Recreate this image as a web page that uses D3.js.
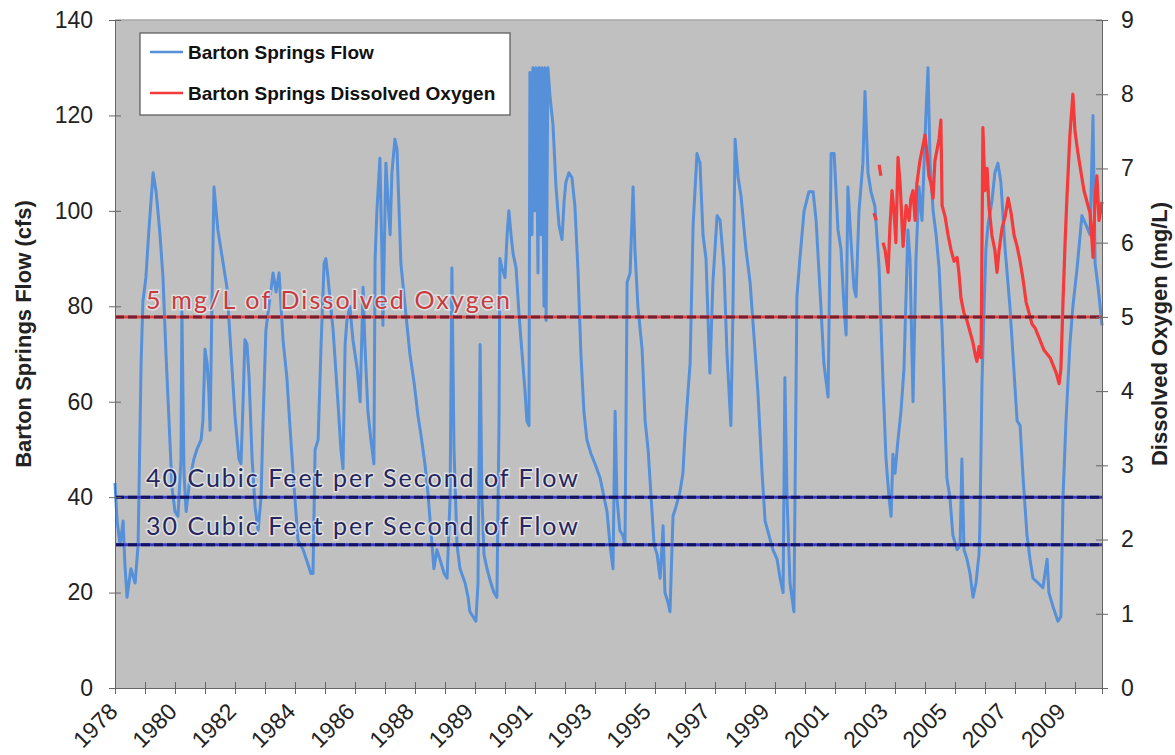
<!DOCTYPE html>
<html>
<head>
<meta charset="utf-8">
<script src="https://cdn.jsdelivr.net/npm/d3@7"></script>
<style>
  body { margin: 0; background: #fff; }
  svg { display: block; font-family: "Liberation Sans", Arial, sans-serif; }
</style>
</head>
<body>
<div id="chart"></div>
<script>
// axis labels (category axis, a label on every second tick)
const xLabels = ["1978", "1980", "1982", "1984", "1986", "1988", "1989", "1991",
  "1993", "1995", "1997", "1999", "2001", "2003", "2005", "2007", "2009"];
const flowTicks = [0, 20, 40, 60, 80, 100, 120, 140];
const doTicks = [0, 1, 2, 3, 4, 5, 6, 7, 8, 9];

// [axis position (tick units), flow cfs]
const flow = [
  [0,43],[0.07,35],[0.17,30],[0.27,35],[0.33,26],[0.4,19],[0.53,25],[0.67,22],[0.77,30],[0.87,68],
  [0.93,81],[1.03,86],[1.13,96],[1.27,108],[1.37,104],[1.43,100],[1.5,95],[1.6,86],[1.7,70],[1.8,56],
  [1.9,42],[2.0,37],[2.1,36],[2.2,48],[2.23,79],[2.3,45],[2.37,37],[2.5,44],[2.63,48],[2.73,50],
  [2.87,52],[2.93,56],[3.0,71],[3.07,68],[3.13,62],[3.17,54],[3.23,80],[3.3,105],[3.37,100],[3.43,96],
  [3.53,92],[3.63,88],[3.73,84],[3.87,70],[4.0,57],[4.13,48],[4.2,47],[4.27,60],[4.33,73],[4.4,72],
  [4.47,65],[4.57,48],[4.67,38],[4.77,33],[4.87,40],[4.93,55],[5.03,75],[5.17,82],[5.27,87],[5.37,83],
  [5.47,87],[5.6,73],[5.73,65],[5.83,55],[5.97,42],[6.1,31],[6.27,29],[6.43,26],[6.53,24],[6.6,24],
  [6.67,50],[6.77,52],[6.87,72],[6.97,89],[7.03,90],[7.1,86],[7.27,75],[7.43,60],[7.53,50],[7.6,46],
  [7.67,72],[7.73,77],[7.83,80],[7.93,73],[8.07,67],[8.17,60],[8.27,84],[8.33,72],[8.43,58],[8.53,52],
  [8.63,47],[8.67,90],[8.73,100],[8.83,111],[8.9,90],[8.93,76],[9.0,100],[9.03,110],[9.1,102],[9.17,95],
  [9.23,108],[9.33,115],[9.4,113],[9.47,100],[9.53,89],[9.67,80],[9.83,70],[9.97,64],[10.1,57],[10.2,53],
  [10.33,47],[10.43,41],[10.53,33],[10.63,25],[10.73,29],[10.83,27],[10.97,24],[11.07,23],[11.17,40],[11.23,88],
  [11.3,50],[11.4,30],[11.5,25],[11.67,22],[11.77,19],[11.83,16],[11.93,15],[12.03,14],[12.1,22],[12.17,72],
  [12.23,40],[12.3,28],[12.4,25],[12.53,22],[12.63,20],[12.73,19],[12.8,55],[12.83,90],[12.9,88],[13.0,86],
  [13.07,95],[13.13,100],[13.2,95],[13.27,91],[13.37,88],[13.47,78],[13.57,70],[13.67,62],[13.73,56],[13.8,55],
  [13.83,129],[13.9,95],[13.93,130],[14.0,100],[14.03,130],[14.1,87],[14.13,130],[14.2,95],[14.23,130],[14.3,80],
  [14.33,130],[14.37,77],[14.43,130],[14.5,124],[14.6,118],[14.7,105],[14.8,97],[14.9,94],[14.97,102],[15.03,106],
  [15.13,108],[15.23,107],[15.33,101],[15.43,88],[15.53,70],[15.63,58],[15.73,52],[15.87,49],[16.0,47],[16.17,44],
  [16.3,40],[16.4,37],[16.5,30],[16.6,25],[16.67,58],[16.73,40],[16.83,33],[16.93,32],[17.0,30],[17.07,85],
  [17.17,87],[17.27,105],[17.33,92],[17.43,80],[17.57,71],[17.67,56],[17.77,50],[17.87,40],[17.97,30],[18.07,28],
  [18.17,23],[18.27,34],[18.33,20],[18.43,18],[18.5,16],[18.6,36],[18.7,38],[18.83,41],[18.93,45],[19.0,53],
  [19.1,62],[19.17,68],[19.27,97],[19.4,112],[19.5,110],[19.6,95],[19.7,90],[19.83,66],[19.93,85],[20.07,99],
  [20.17,98],[20.3,88],[20.4,70],[20.53,55],[20.6,80],[20.67,115],[20.77,107],[20.87,103],[21.03,92],[21.17,85],
  [21.33,71],[21.43,62],[21.57,45],[21.67,35],[21.8,32],[21.93,29],[22.07,27],[22.17,23],[22.27,20],[22.33,65],
  [22.4,40],[22.5,22],[22.63,16],[22.73,82],[22.83,90],[22.97,100],[23.13,104],[23.27,104],[23.37,98],[23.53,80],
  [23.63,68],[23.77,61],[23.87,112],[23.97,112],[24.1,96],[24.2,92],[24.3,80],[24.37,74],[24.43,105],[24.53,94],
  [24.63,84],[24.7,82],[24.8,100],[24.93,110],[25.0,125],[25.1,108],[25.2,104],[25.33,101],[25.47,88],[25.6,64],
  [25.7,48],[25.8,40],[25.87,36],[25.93,49],[26.0,45],[26.1,52],[26.2,58],[26.3,67],[26.43,96],[26.5,90],
  [26.6,60],[26.7,90],[26.8,105],[26.9,98],[27.03,120],[27.1,130],[27.17,110],[27.27,100],[27.37,95],[27.47,88],
  [27.57,75],[27.63,64],[27.73,44],[27.83,40],[27.93,32],[28.07,29],[28.17,30],[28.23,48],[28.3,29],[28.4,27],
  [28.5,24],[28.6,19],[28.7,22],[28.8,28],[28.83,34],[28.9,64],[28.97,80],[29.03,92],[29.1,97],[29.23,102],
  [29.33,108],[29.43,110],[29.53,106],[29.67,92],[29.83,80],[29.93,70],[30.07,56],[30.17,55],[30.27,44],[30.4,32],
  [30.5,27],[30.6,23],[30.77,22],[30.93,21],[31.07,27],[31.13,20],[31.27,17],[31.43,14],[31.53,15],[31.6,40],
  [31.7,56],[31.83,72],[31.93,80],[32.07,88],[32.23,99],[32.37,97],[32.5,95],[32.6,120],[32.67,89],[32.77,84],
  [32.9,76]
];

// [axis position, dissolved oxygen mg/L]; null = no sample
const dissolvedOxygen = [
  [25.3,6.4],[25.37,6.3],[25.42,null],[25.47,7.05],[25.53,6.9],[25.56,null],
  [25.6,6.0],[25.67,5.9],[25.77,5.6],[25.83,6.2],[25.9,6.7],[25.97,6.4],[26.03,6.0],[26.1,7.15],
  [26.17,6.8],[26.27,5.95],[26.37,6.5],[26.47,6.3],[26.53,6.6],[26.6,6.7],[26.67,6.3],[26.73,6.8],
  [26.83,7.1],[26.93,7.3],[27.0,7.45],[27.07,7.2],[27.13,6.9],[27.2,6.8],[27.27,6.6],[27.33,7.1],
  [27.4,7.25],[27.47,7.4],[27.53,7.65],[27.57,6.5],[27.67,6.35],[27.77,6.1],[27.87,5.9],[27.97,5.75],
  [28.07,5.8],[28.13,5.6],[28.2,5.25],[28.3,5.05],[28.4,4.95],[28.5,4.8],[28.6,4.65],[28.67,4.5],
  [28.73,4.4],[28.8,4.6],[28.87,4.45],[28.93,7.55],[29.0,6.7],[29.07,7.0],[29.13,6.5],[29.23,6.1],
  [29.33,5.9],[29.4,5.6],[29.47,5.9],[29.57,6.2],[29.67,6.35],[29.77,6.6],[29.87,6.4],[29.97,6.1],
  [30.07,5.95],[30.17,5.75],[30.27,5.5],[30.37,5.2],[30.47,5.05],[30.57,4.9],[30.67,4.85],[30.77,4.75],
  [30.87,4.65],[30.97,4.55],[31.07,4.5],[31.17,4.45],[31.27,4.35],[31.37,4.25],[31.47,4.1],[31.53,4.3],
  [31.6,5.2],[31.67,6.0],[31.73,6.6],[31.83,7.45],[31.93,8.0],[32.0,7.5],[32.1,7.2],[32.2,6.95],
  [32.3,6.7],[32.4,6.55],[32.5,6.4],[32.57,6.0],[32.6,5.8],[32.67,6.6],[32.73,6.9],[32.8,6.3],[32.9,6.55]
];

const flowLimits = [40, 30];
const flowLimitLabels = ["40 Cubic Feet per Second of Flow", "30 Cubic Feet per Second of Flow"];
const doLimit = 5;
const doLimitLabel = "5 mg/L of Dissolved Oxygen";

var margin = { top: 20, right: 73, bottom: 67, left: 115 },
  width = 1175 - margin.left - margin.right,
  height = 755 - margin.top - margin.bottom;

var x = d3.scaleLinear().domain([0, 32.9]).range([0, width]);
var yFlow = d3.scaleLinear().domain([0, 140]).range([height, 0]);
var yDo = d3.scaleLinear().domain([0, 9]).range([height, 0]);

var svg = d3
  .select("#chart")
  .append("svg")
  .attr("width", 1175)
  .attr("height", 755)
  .append("g")
  .attr("transform", "translate(" + margin.left + "," + margin.top + ")");

// plot area
svg.append("rect")
  .attr("width", width)
  .attr("height", height)
  .attr("fill", "#c0c0c0");

svg.append("line")
  .attr("x1", 0).attr("x2", width).attr("y1", 0).attr("y2", 0)
  .attr("stroke", "#a8a8a8").attr("stroke-width", 1.5);

// flow line
var flowLine = d3.line()
  .x((d) => x(d[0]))
  .y((d) => yFlow(d[1]));

svg.append("path")
  .datum(flow)
  .attr("fill", "none")
  .attr("stroke", "#5590d8")
  .attr("stroke-width", 3)
  .attr("stroke-linejoin", "round")
  .attr("d", flowLine);

// dissolved oxygen line
var doLine = d3.line()
  .defined((d) => d[1] != null)
  .x((d) => x(d[0]))
  .y((d) => yDo(d[1]));

svg.append("path")
  .datum(dissolvedOxygen)
  .attr("fill", "none")
  .attr("stroke", "#f43a3a")
  .attr("stroke-width", 3.2)
  .attr("stroke-linejoin", "round")
  .attr("d", doLine);

// reference lines
function refLine(yPos, base, dash) {
  svg.append("line")
    .attr("x1", 0).attr("x2", width).attr("y1", yPos).attr("y2", yPos)
    .attr("stroke", base).attr("stroke-width", 3);
  svg.append("line")
    .attr("x1", 0).attr("x2", width).attr("y1", yPos).attr("y2", yPos)
    .attr("stroke", dash).attr("stroke-width", 3)
    .attr("stroke-dasharray", "9,4");
}

refLine(yDo(doLimit), "#e04848", "#7a1e2e");
flowLimits.forEach((v) => refLine(yFlow(v), "#3a3ac8", "#12125e"));

function refLabel(text, yPos, color, len) {
  svg.append("text")
    .attr("x", 31)
    .attr("y", yPos)
    .attr("fill", color)
    .attr("stroke", "rgba(255,255,255,0.55)")
    .attr("stroke-width", 3)
    .attr("paint-order", "stroke")
    .attr("textLength", len)
    .attr("lengthAdjust", "spacing")
    .style("font-family", "Lato, 'Open Sans', sans-serif")
    .style("font-size", "25px")
    .text(text);
}

refLabel(doLimitLabel, yDo(doLimit) - 8, "#c83a40", 364);
flowLimits.forEach((v, i) => refLabel(flowLimitLabels[i], yFlow(v) - 10, "#26265e", 432));

// left axis
var axL = svg.append("g")
  .call(d3.axisLeft(yFlow).tickValues(flowTicks).tickSize(6).tickPadding(16));
axL.selectAll(".tick line").attr("x1", 6);
axL.selectAll("text").style("font-size", "23px").attr("fill", "#222");
axL.select(".domain").attr("stroke", "#666");
axL.selectAll(".tick line").attr("stroke", "#666");

// right axis
var axR = svg.append("g")
  .attr("transform", "translate(" + width + ",0)")
  .call(d3.axisRight(yDo).tickValues(doTicks).tickSize(6).tickPadding(13));
axR.selectAll(".tick line").attr("x1", -6).attr("stroke", "#666");
axR.selectAll("text").style("font-size", "23px").attr("fill", "#222");
axR.select(".domain").attr("stroke", "#666");

// bottom axis
var axB = svg.append("g")
  .attr("transform", "translate(0," + height + ")")
  .call(d3.axisBottom(x).tickValues(d3.range(0, 33)).tickSize(6).tickFormat(""));
axB.selectAll(".tick line").attr("y1", -6).attr("stroke", "#666");
axB.select(".domain").attr("stroke", "#666");

const labelStep = 1.975;
svg.append("g")
  .selectAll("text")
  .data(xLabels)
  .enter()
  .append("text")
  .attr("transform", (d, i) =>
    "translate(" + (x(i * labelStep) + 4) + "," + (height + 25) + ") rotate(-45)")
  .attr("text-anchor", "end")
  .attr("fill", "#222")
  .style("font-size", "23px")
  .text((d) => d);

// axis titles
svg.append("text")
  .attr("transform", "rotate(-90)")
  .attr("x", -height / 2 + 20)
  .attr("y", -margin.left + 31)
  .attr("text-anchor", "middle")
  .attr("fill", "#222")
  .style("font-size", "22px")
  .style("font-weight", "bold")
  .text("Barton Springs Flow (cfs)");

svg.append("text")
  .attr("transform", "rotate(-90)")
  .attr("x", -height / 2 + 20)
  .attr("y", width + 65)
  .attr("text-anchor", "middle")
  .attr("fill", "#222")
  .style("font-size", "22px")
  .style("font-weight", "bold")
  .text("Dissolved Oxygen (mg/L)");

// legend
var legend = svg.append("g").attr("transform", "translate(25,13)");
legend.append("rect")
  .attr("width", 370)
  .attr("height", 82)
  .attr("fill", "#fff")
  .attr("stroke", "#555")
  .attr("stroke-width", 1.2);

[["Barton Springs Flow", "#5590d8"], ["Barton Springs Dissolved Oxygen", "#f43a3a"]]
  .forEach(([name, color], i) => {
    legend.append("line")
      .attr("x1", 10).attr("x2", 43)
      .attr("y1", 19 + i * 41).attr("y2", 19 + i * 41)
      .attr("stroke", color).attr("stroke-width", 2.6);
    legend.append("text")
      .attr("x", 48)
      .attr("y", 26 + i * 41)
      .attr("fill", "#111")
      .style("font-size", "19px")
      .style("font-weight", "bold")
      .text(name);
  });
</script>
</body>
</html>
